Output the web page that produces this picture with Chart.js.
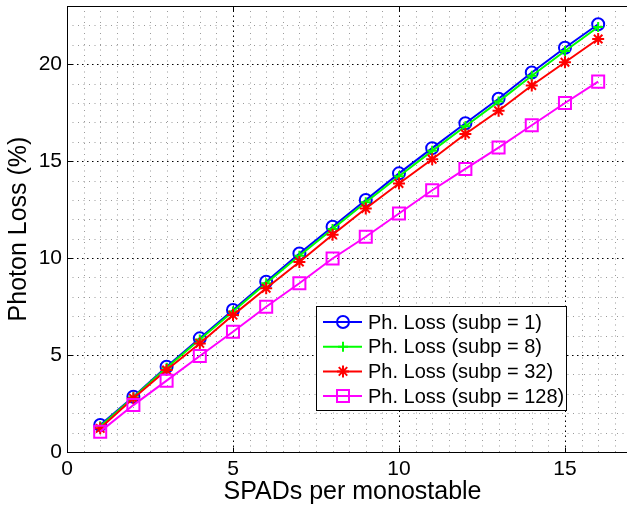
<!DOCTYPE html>
<html>
<head>
<meta charset="utf-8">
<script src="https://cdn.jsdelivr.net/npm/chart.js@4.4.1/dist/chart.umd.min.js"></script>
<style>
  html, body { margin: 0; padding: 0; background: #fff; overflow: hidden; }
  #wrap { width: 660px; height: 505px; }
</style>
</head>
<body>
<div id="wrap"><canvas id="chart" width="660" height="505"></canvas></div>
<script>
const spads = [1, 2, 3, 4, 5, 6, 7, 8, 9, 10, 11, 12, 13, 14, 15, 16];
const lossSubp1 = [1.39, 2.85, 4.40, 5.86, 7.32, 8.78, 10.24, 11.62, 13.0, 14.37, 15.67, 16.95, 18.22, 19.57, 20.85, 22.06];
const lossSubp8 = [1.33, 2.82, 4.35, 5.80, 7.25, 8.70, 10.12, 11.50, 12.88, 14.22, 15.53, 16.80, 18.07, 19.40, 20.68, 21.92];
const lossSubp32 = [1.22, 2.77, 4.23, 5.60, 7.06, 8.44, 9.80, 11.20, 12.56, 13.85, 15.10, 16.40, 17.60, 18.90, 20.10, 21.30];
const lossSubp128 = [1.05, 2.42, 3.68, 4.95, 6.20, 7.49, 8.70, 9.98, 11.10, 12.30, 13.50, 14.60, 15.70, 16.85, 18.00, 19.10];
const seriesLabels = ['Ph. Loss (subp = 1)', 'Ph. Loss (subp = 8)', 'Ph. Loss (subp = 32)', 'Ph. Loss (subp = 128)'];

const toPoints = (ys) => spads.map((x, i) => ({ x: x, y: ys[i] }));

// matlab-like grid, box and inward ticks
const matlabAxes = {
  id: 'matlabAxes',
  beforeDatasetsDraw(chart) {
    const { ctx, chartArea: a, scales: { x, y } } = chart;
    ctx.save();
    ctx.lineWidth = 1;
    // minor
    ctx.strokeStyle = '#9a9a9a';
    ctx.setLineDash([1, 4.5]);
    for (let v = 0.5; v < x.max; v += 0.5) {
      if (v % 5 === 0) continue;
      const px = Math.round(x.getPixelForValue(v)) + 0.5;
      ctx.beginPath(); ctx.moveTo(px, a.bottom); ctx.lineTo(px, a.top); ctx.stroke();
    }
    for (let v = 1; v < y.max; v += 1) {
      if (v % 5 === 0) continue;
      const py = Math.round(y.getPixelForValue(v)) + 0.5;
      ctx.beginPath(); ctx.moveTo(a.left, py); ctx.lineTo(a.right, py); ctx.stroke();
    }
    // major
    ctx.strokeStyle = '#000';
    ctx.setLineDash([1.5, 3.5]);
    for (let v = 5; v < x.max; v += 5) {
      const px = Math.round(x.getPixelForValue(v)) + 0.5;
      ctx.beginPath(); ctx.moveTo(px, a.bottom); ctx.lineTo(px, a.top); ctx.stroke();
    }
    for (let v = 5; v < y.max; v += 5) {
      const py = Math.round(y.getPixelForValue(v)) + 0.5;
      ctx.beginPath(); ctx.moveTo(a.left, py); ctx.lineTo(a.right, py); ctx.stroke();
    }
    ctx.restore();
  },
  afterDatasetsDraw(chart) {
    const { ctx, chartArea: a, scales: { x, y } } = chart;
    ctx.save();
    ctx.strokeStyle = '#000';
    ctx.lineWidth = 1;
    ctx.setLineDash([]);
    const L = Math.round(a.left) + 0.5, R = Math.round(a.right) + 0.5;
    const T = Math.round(a.top) + 0.5, B = Math.round(a.bottom) + 0.5;
    ctx.strokeRect(L, T, R - L, B - T);
    const tl = 5;
    ctx.beginPath();
    for (let v = 5; v < x.max; v += 5) {
      const px = Math.round(x.getPixelForValue(v)) + 0.5;
      ctx.moveTo(px, B); ctx.lineTo(px, B - tl);
      ctx.moveTo(px, T); ctx.lineTo(px, T + tl);
    }
    for (let v = 5; v < y.max; v += 5) {
      const py = Math.round(y.getPixelForValue(v)) + 0.5;
      ctx.moveTo(L, py); ctx.lineTo(L + tl, py);
      ctx.moveTo(R, py); ctx.lineTo(R - tl, py);
    }
    ctx.stroke();
    ctx.restore();
  }
};

function drawMarker(ctx, style, cx, cy, color) {
  ctx.strokeStyle = color;
  ctx.lineWidth = 2;
  ctx.beginPath();
  if (style === 'circle') {
    ctx.arc(cx, cy, 6, 0, Math.PI * 2);
  } else if (style === 'cross') {
    ctx.moveTo(cx - 5, cy); ctx.lineTo(cx + 5, cy);
    ctx.moveTo(cx, cy - 5); ctx.lineTo(cx, cy + 5);
  } else if (style === 'star') {
    for (let k = 0; k < 4; k++) {
      const ang = k * Math.PI / 4;
      ctx.moveTo(cx - 6 * Math.cos(ang), cy - 6 * Math.sin(ang));
      ctx.lineTo(cx + 6 * Math.cos(ang), cy + 6 * Math.sin(ang));
    }
  } else if (style === 'rect') {
    ctx.rect(cx - 6, cy - 6, 12, 12);
  }
  ctx.stroke();
}

const boxLegend = {
  id: 'boxLegend',
  afterDraw(chart) {
    const ctx = chart.ctx;
    const bx = 316, by = 306, bw = 250, bh = 104;
    ctx.save();
    ctx.fillStyle = '#fff';
    ctx.fillRect(bx, by, bw, bh);
    ctx.strokeStyle = '#000';
    ctx.lineWidth = 1;
    ctx.strokeRect(bx + 0.5, by + 0.5, bw, bh);
    ctx.font = '20px "Liberation Sans", Arial, sans-serif';
    ctx.textBaseline = 'middle';
    chart.data.datasets.forEach((ds, i) => {
      const cy = 322 + i * 24.7;
      ctx.strokeStyle = ds.borderColor;
      ctx.lineWidth = 2;
      ctx.beginPath(); ctx.moveTo(323, cy); ctx.lineTo(362, cy); ctx.stroke();
      drawMarker(ctx, ds.pointStyle, 343, cy, ds.borderColor);
      ctx.fillStyle = '#000';
      ctx.fillText(ds.label, 368, cy + 1);
    });
    ctx.restore();
  }
};

const makeSet = (label, ys, color, style, radius, order) => ({
  label: label,
  data: toPoints(ys),
  borderColor: color,
  backgroundColor: 'rgba(0,0,0,0)',
  pointBorderColor: color,
  pointBackgroundColor: 'rgba(0,0,0,0)',
  borderWidth: 2,
  pointBorderWidth: 2,
  pointStyle: style,
  pointRadius: radius,
  showLine: true,
  tension: 0,
  order: order
});

new Chart(document.getElementById('chart').getContext('2d'), {
  type: 'scatter',
  data: {
    datasets: [
      makeSet(seriesLabels[0], lossSubp1, '#0000ff', 'circle', 6, 4),
      makeSet(seriesLabels[1], lossSubp8, '#00ff00', 'cross', 5, 3),
      makeSet(seriesLabels[2], lossSubp32, '#ff0000', 'star', 6, 2),
      makeSet(seriesLabels[3], lossSubp128, '#ff00ff', 'rect', 8.5, 1)
    ]
  },
  options: {
    responsive: false,
    animation: false,
    layout: { autoPadding: false, padding: { left: 0, top: 6, right: 22, bottom: 0 } },
    plugins: {
      legend: { display: false },
      tooltip: { enabled: false }
    },
    scales: {
      x: {
        type: 'linear',
        min: 0,
        max: 17.2,
        grid: { display: false, drawTicks: false },
        border: { display: false },
        ticks: {
          stepSize: 5,
          includeBounds: false,
          padding: 5,
          color: '#000',
          font: { family: '"Liberation Sans", Arial, sans-serif', size: 21 }
        },
        title: {
          display: true,
          text: 'SPADs per monostable',
          color: '#000',
          padding: { top: 0, bottom: 0 },
          font: { family: '"Liberation Sans", Arial, sans-serif', size: 25, lineHeight: 1 }
        },
        afterFit: (s) => { s.height = 53; s.paddingLeft = 0; s.paddingRight = 0; }
      },
      y: {
        type: 'linear',
        min: 0,
        max: 23,
        grid: { display: false, drawTicks: false },
        border: { display: false },
        ticks: {
          stepSize: 5,
          includeBounds: false,
          padding: 5,
          color: '#000',
          font: { family: '"Liberation Sans", Arial, sans-serif', size: 21 }
        },
        title: {
          display: true,
          text: 'Photon Loss (%)',
          color: '#000',
          padding: { top: 7, bottom: 0 },
          font: { family: '"Liberation Sans", Arial, sans-serif', size: 25, lineHeight: 1 }
        },
        afterFit: (s) => { s.width = 67; s.paddingTop = 0; s.paddingBottom = 0; }
      }
    }
  },
  plugins: [matlabAxes, boxLegend]
});
</script>
</body>
</html>
